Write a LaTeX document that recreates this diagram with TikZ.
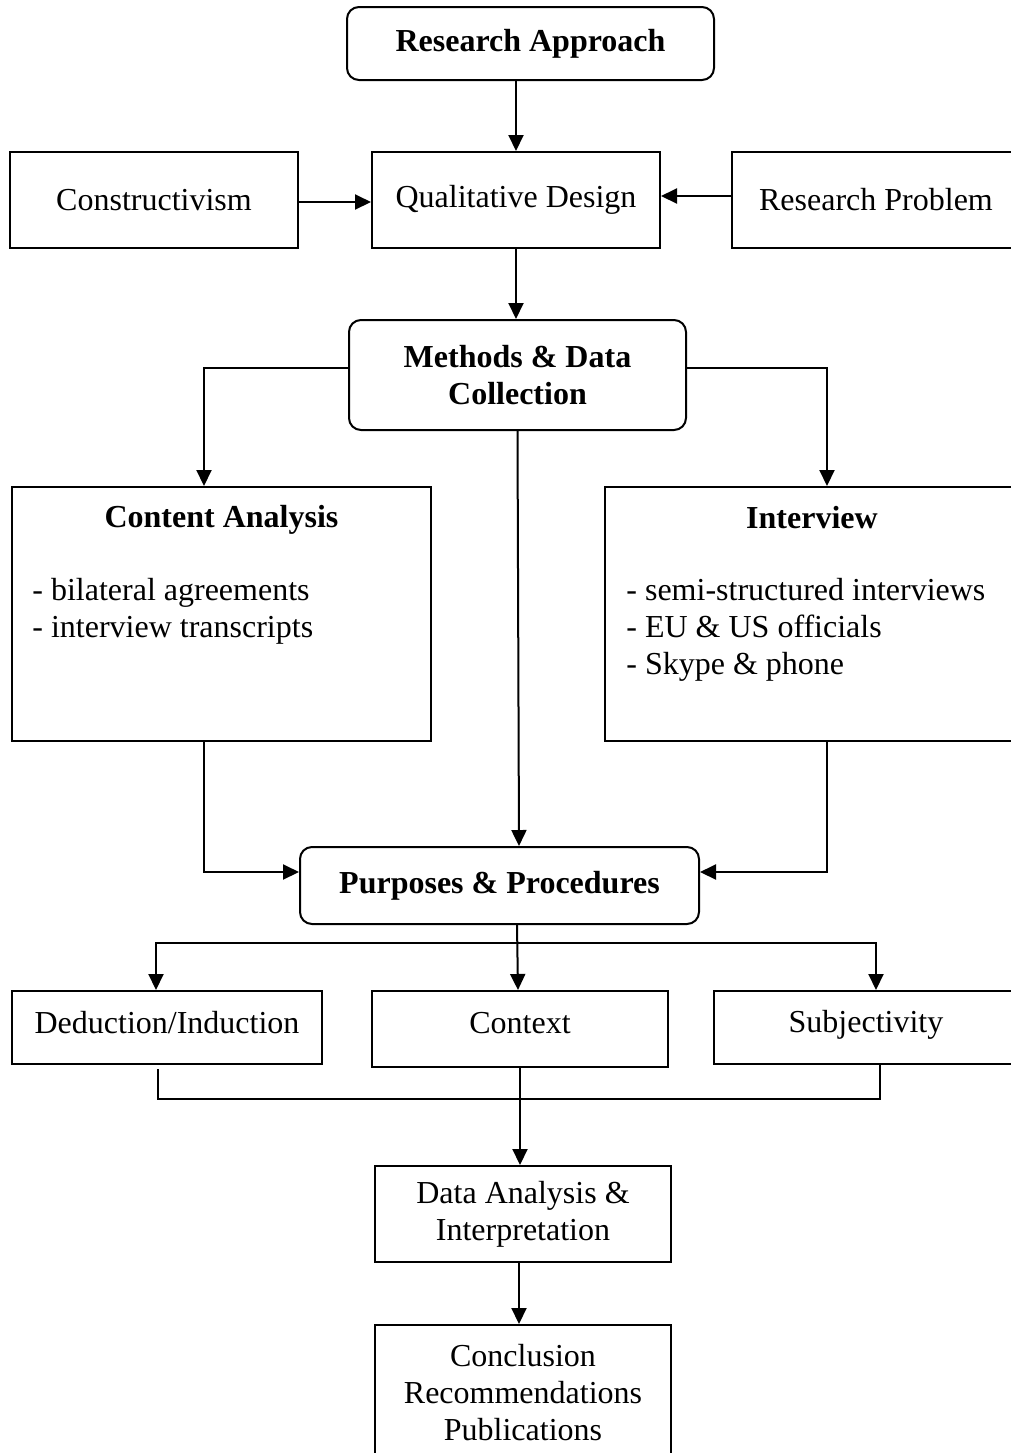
\documentclass[tikz,border=0pt]{standalone}
\usepackage{fontspec}
\setmainfont{Liberation Serif}
\usetikzlibrary{arrows.meta}
\newcommand\myfs{\fontsize{16}{18.5}\selectfont}
\tikzset{
  box/.style={draw, line width=1pt, rectangle, inner sep=0pt, align=center, font=\myfs},
  rbox/.style={box, rounded corners=6pt, font=\myfs\bfseries},
  txt/.style={inner sep=0pt, font=\myfs},
  arr/.style={line width=1pt, -{Triangle[length=8pt,width=7.5pt]}},
  ln/.style={line width=1pt}
}
\begin{document}
\begin{tikzpicture}[x=0.5pt,y=-0.5pt]
\clip (0,0) rectangle (1011,1453);
\fill[white] (0,0) rectangle (1011,1453);
% nodes
\node[rbox, minimum width=183.5pt, minimum height=36.5pt] (ra) at (530.5,43.5) {Research Approach};
\node[box, minimum width=144pt, minimum height=48pt] (cons) at (154,200) {Constructivism};
\node[box, minimum width=144pt, minimum height=48pt] (qual) at (516,200) {Qualitative Design};
\node[box, minimum width=144pt, minimum height=48pt] (rp) at (876,200) {Research Problem};
\node[rbox, minimum width=168.5pt, minimum height=55pt] (meth) at (517.5,375) {Methods \& Data\\Collection};
\node[box, minimum width=209.5pt, minimum height=127pt] (ca) at (221.5,614) {};
\node[txt, font=\myfs\bfseries] (catitle) at (221.5,520) {Content Analysis};
\node[txt, anchor=west, align=left] (caitems) at (32,611) {- bilateral agreements\\- interview transcripts};
\node[box, minimum width=207pt, minimum height=127pt] (iv) at (812,614) {};
\node[txt, font=\myfs\bfseries] (ivtitle) at (812,518) {Interview};
\node[txt, anchor=west, align=left] (ivitems) at (626,630) {- semi-structured interviews\\- EU \& US officials\\- Skype \& phone};
\node[rbox, minimum width=199.5pt, minimum height=38.5pt] (pp) at (499.5,885.5) {Purposes \& Procedures};
\node[box, minimum width=155pt, minimum height=36.5pt] (ded) at (167,1027.5) {};
\node[txt] (dedt) at (167,1023) {Deduction/Induction};
\node[box, minimum width=148pt, minimum height=38pt] (ctx) at (520,1029) {};
\node[txt] (ctxt) at (520,1023) {Context};
\node[box, minimum width=152pt, minimum height=36.5pt] (subj) at (866,1027.5) {};
\node[txt] (subjt) at (866,1025) {Subjectivity};
\node[box, minimum width=148pt, minimum height=48pt] (da) at (523,1214) {Data Analysis \&\\Interpretation};
\node[box, minimum width=148pt, minimum height=67.5pt] (con) at (523,1392.5) {Conclusion\\Recommendations\\Publications};
% connectors
\draw[arr] (qual.north |- ra.south) -- (qual.north);
\draw[arr] ([yshift=-1pt]cons.east) -- ([yshift=-1pt]qual.west);
\draw[arr] ([yshift=2pt]rp.west) -- ([yshift=2pt]qual.east);
\draw[arr] (qual.south) -- (qual.south |- meth.north);
\draw[arr] ([yshift=3.5pt]meth.west) -| ([xshift=-8.75pt]ca.north);
\draw[arr] ([yshift=3.5pt]meth.east) -| ([xshift=7.5pt]iv.north);
\draw[arr] (meth.south) -- ([xshift=9.75pt]pp.north);
\draw[arr] ([xshift=-8.75pt]ca.south) |- ([yshift=6.75pt]pp.west);
\draw[arr] ([xshift=7.5pt]iv.south) |- ([yshift=6.75pt]pp.east);
\coordinate (bus) at (517,943);
\draw[arr] ([xshift=8.75pt]pp.south) -- ([xshift=-1pt]ctx.north);
\draw[arr] (bus) -| ([xshift=-5.5pt]ded.north);
\draw[arr] (bus) -| ([xshift=5pt]subj.north);
\coordinate (mrg) at (520,1099);
\draw[ln] ([xshift=-4.5pt,yshift=-2pt]ded.south) |- (mrg) -| ([xshift=7pt]subj.south);
\draw[arr] (ctx.south) -- (ctx.south |- da.north);
\draw[arr] ([xshift=-2pt]da.south) -- ([xshift=-2pt]da.south |- con.north);
\end{tikzpicture}
\end{document}
